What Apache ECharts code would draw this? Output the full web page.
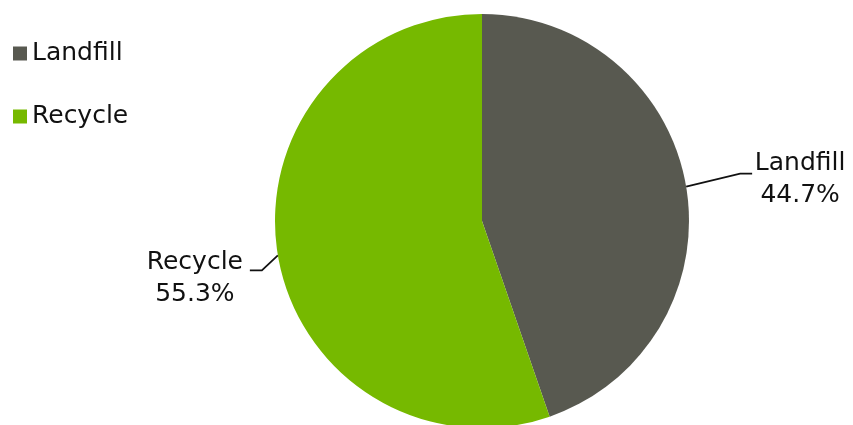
<!DOCTYPE html>
<html><head><meta charset="utf-8">
<script src="https://cdn.jsdelivr.net/npm/echarts@6/dist/echarts.min.js"></script>
<style>html,body{margin:0;padding:0;background:#fff}#c{width:853px;height:425px}</style>
</head><body><div id="c"></div>
<script>
const categories = ['Landfill', 'Recycle'];
const values = [44.7, 55.3];
const colors = ['#585950', '#76b900'];

const FONT = '"DejaVu Sans", sans-serif';
const chart = echarts.init(document.getElementById('c'));
chart.setOption({
  animation: false,
  textStyle: { fontFamily: FONT },
  legend: {
    orient: 'vertical', left: 8, top: 36,
    icon: 'rect', itemWidth: 14, itemHeight: 14, itemGap: 38, itemStyle: { borderWidth: 0 },
    textStyle: { fontSize: 25, color: '#111', fontFamily: FONT },
    data: categories
  },
  series: [{
    type: 'pie',
    center: [482, 221],
    radius: 207,
    startAngle: 90,
    clockwise: true,
    data: categories.map((c, i) => ({ name: c, value: values[i], itemStyle: { color: colors[i] } })),
    label: {
      show: true,
      formatter: p => '{' + (p.dataIndex === 0 ? 'l' : 'r') + '|' + p.name + '}\n{' +
        (p.dataIndex === 0 ? 'l' : 'r') + '|' + p.value.toFixed(1) + '%}',
      color: '#111', fontFamily: FONT, overflow: 'none',
      rich: {
        l: { width: 88, align: 'center', fontSize: 25, lineHeight: 32, color: '#111', fontFamily: FONT },
        r: { width: 102, align: 'center', fontSize: 25, lineHeight: 32, color: '#111', fontFamily: FONT }
      }
    },
    labelLine: { show: true, length: 20, length2: 12, lineStyle: { color: '#111', width: 1.8 } },
    labelLayout: p => {
      const a = p.labelLinePoints[0];
      if (p.dataIndex === 0) {
        return {
          x: a[0] + 70, y: a[1] - 7, align: 'left', verticalAlign: 'middle',
          labelLinePoints: [a, [a[0] + 54, a[1] - 13], [a[0] + 66, a[1] - 13]]
        };
      }
      return {
        x: a[0] - 32, y: a[1] + 23, align: 'right', verticalAlign: 'middle',
        labelLinePoints: [a, [a[0] - 16, a[1] + 15], [a[0] - 28, a[1] + 15]]
      };
    }
  }]
});
</script></body></html>
